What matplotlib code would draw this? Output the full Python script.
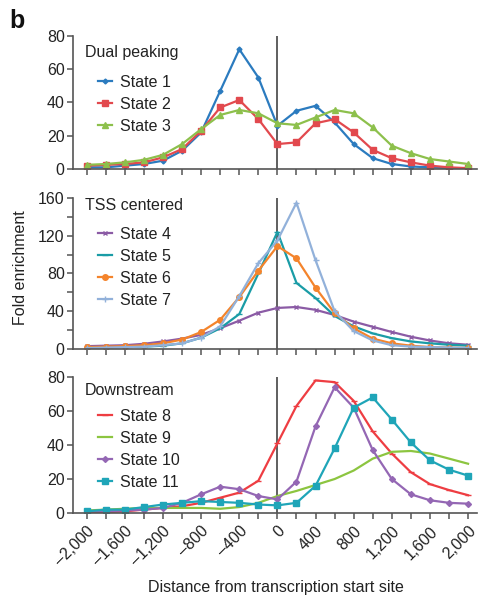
import numpy as np
import matplotlib
matplotlib.use("Agg")
import matplotlib.pyplot as plt

plt.rcParams['font.family'] = ['Liberation Sans', 'DejaVu Sans']

# 距离（-2000 到 2000，每 200 一个点）
dist = list(range(-2000, 2001, 200))

# 面板 1: Dual peaking
state1 = [1, 1, 2, 3, 5, 11, 22, 47, 72, 55, 26, 35, 38, 28, 15, 6.5, 3, 1.5, 1, 0.5, 0.3]
state2 = [2, 2.5, 3, 4, 7, 12, 23, 37, 41.5, 30, 15, 16, 27.5, 30, 22, 11.5, 6.5, 4, 2, 1, 0.5]
state3 = [2.5, 3, 4, 5.5, 8.5, 15, 24, 32.5, 35.5, 33.5, 27.5, 26.5, 31, 35.5, 33.5, 25, 14, 9.5, 6, 4.5, 3]

# 面板 2: TSS centered
state4 = [3, 3.5, 4, 5.5, 8, 11, 15, 22, 30, 38.5, 43.5, 44.5, 41.5, 36, 29, 23.5, 18, 13, 9, 6, 4.5]
state5 = [1.5, 2, 2, 2.5, 3.5, 6, 12, 22, 37, 80, 124, 70, 54, 35, 24, 16.5, 11.5, 8, 6, 4.5, 3.5]
state6 = [2, 2.5, 3, 4, 6, 10, 18, 31, 55, 83, 109, 96, 65, 38, 22, 11, 6, 3.5, 2, 1.5, 1]
state7 = [1, 1.5, 2, 2.5, 4, 6, 12, 24, 56, 91, 115, 155, 94, 40, 19, 9, 4, 2.5, 2, 1.5, 1]

# 面板 3: Downstream
state8 = [0.5, 0.5, 1, 2, 3, 4, 6, 9, 12, 19, 41, 63, 78, 77, 66, 48, 35, 24, 17, 13.5, 10.5]
state9 = [1.5, 2, 2.5, 3, 3, 3, 3, 2.5, 3.5, 6, 10, 13, 16.5, 20, 25, 32, 36, 36.5, 35, 32, 29]
state10 = [1, 1, 1.5, 2, 3, 6, 11, 15.5, 14, 10, 8, 18.5, 51, 74, 62, 37, 20, 11, 7.5, 6, 5.5]
state11 = [1, 2, 2, 3.5, 5, 6, 7, 6.5, 6, 5, 4.5, 6, 16, 38, 62, 68, 55, 41.5, 31, 25.5, 22]

xtick_labels = ['\u20132,000', '\u20131,600', '\u20131,200', '\u2013800', '\u2013400',
                '0', '400', '800', '1,200', '1,600', '2,000']

panels = [
    dict(title='Dual peaking', ymax=80, major=20, minor=None, title_y=0.93, leg_y=0.709,
         series=[('State 1', state1, '#2b7bbf', 'D', 2.5),
                 ('State 2', state2, '#e2494e', 's', 4),
                 ('State 3', state3, '#8dc04c', '^', 4)]),
    dict(title='TSS centered', ymax=160, major=40, minor=20, title_y=1.0, leg_y=0.81,
         series=[('State 4', state4, '#8b5ba5', 'x', 3),
                 ('State 5', state5, '#1a9ca6', '_', 5),
                 ('State 6', state6, '#f4842c', 'o', 4),
                 ('State 7', state7, '#92b1da', '+', 5)]),
    dict(title='Downstream', ymax=80, major=20, minor=None, title_y=0.955, leg_y=0.767,
         series=[('State 8', state8, '#ee3d42', '_', 5),
                 ('State 9', state9, '#8cc540', None, 0),
                 ('State 10', state10, '#9467b4', 'D', 3),
                 ('State 11', state11, '#1fa5b8', 's', 4.5)]),
]

# 每个面板的位置 (left, bottom, width, height)
positions = [(0.152, 0.7174, 0.842, 0.2224),
             (0.152, 0.4164, 0.842, 0.2525),
             (0.152, 0.1421, 0.842, 0.2274)]

fig = plt.figure(figsize=(4.8, 5.98), dpi=100)
axis_col = '#555555'
text_col = '#222222'

for i, (p, pos) in enumerate(zip(panels, positions)):
    ax = fig.add_axes(pos)
    for name, vals, col, mk, ms in p['series']:
        ax.plot(dist, vals, color=col, lw=1.6, marker=mk, ms=ms,
                mec=col, mfc=col, mew=1.0, label=name)
    ax.axvline(0, color='#444444', lw=1.2, zorder=0)

    ax.set_xlim(-2145, 2095)
    ax.set_ylim(0, p['ymax'])
    ax.set_yticks(np.arange(0, p['ymax'] + 1, p['major']))
    if p['minor']:
        ax.set_yticks(np.arange(p['minor'], p['ymax'], p['major']), minor=True)
    ax.set_xticks(dist)
    if i == 2:
        labels = [xtick_labels[k // 2] if k % 2 == 0 else '' for k in range(len(dist))]
        ax.set_xticklabels(labels, rotation=45, ha='right', rotation_mode='anchor',
                           fontsize=11, color=text_col)
    else:
        ax.set_xticklabels([])

    for s in ['top', 'right']:
        ax.spines[s].set_visible(False)
    for s in ['left', 'bottom']:
        ax.spines[s].set_color(axis_col)
        ax.spines[s].set_linewidth(1.2)
    ax.tick_params(axis='both', which='both', direction='out', color=axis_col,
                   width=1.1, labelsize=11.5, labelcolor=text_col)
    ax.tick_params(axis='both', which='major', length=4)
    ax.tick_params(axis='y', which='minor', length=4)
    ax.tick_params(axis='y', pad=2)

    ax.text(0.03, p['title_y'], p['title'], transform=ax.transAxes,
            fontsize=11.5, color=text_col, va='top', ha='left')
    leg = ax.legend(loc='upper left', bbox_to_anchor=(0.062, p['leg_y']),
                    frameon=False, fontsize=11.5, handlelength=0.9, handletextpad=0.5,
                    labelspacing=0.44, borderpad=0, borderaxespad=0)
    for t in leg.get_texts():
        t.set_color(text_col)

fig.text(0.042, 0.552, 'Fold enrichment', rotation=90, ha='center', va='center',
         fontsize=11.5, color=text_col)
fig.text(0.575, 0.018, 'Distance from transcription start site', ha='center',
         va='center', fontsize=11.5, color=text_col)
fig.text(0.02, 0.965, 'b', fontsize=18, fontweight='bold', color='#111111',
         ha='left', va='center')

plt.savefig('out.png', dpi=100)
plt.close()
